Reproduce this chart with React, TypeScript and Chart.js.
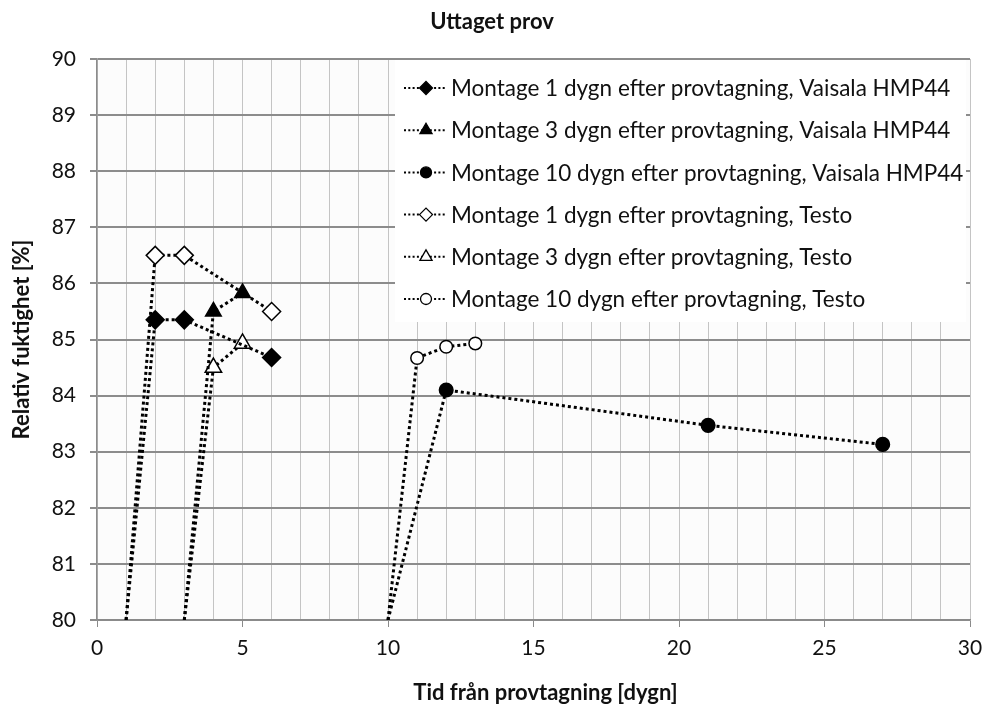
import { useEffect, useRef } from 'react';
import { Chart, registerables } from 'chart.js';
import { drawPoint } from 'chart.js/helpers';

Chart.register(...registerables);

const FONT = 'Lato, "Noto Sans", sans-serif';

// Days after sampling (x) and relative humidity in % (y) per series
const m1Days = [1, 2, 3, 6];
const m1Vaisala = [80, 85.35, 85.35, 84.68];
const m1Testo = [80, 86.5, 86.5, 85.5];

const m3Days = [3, 4, 5];
const m3Vaisala = [80, 85.5, 85.83];
const m3Testo = [80, 84.5, 84.93];

const m10VaisalaDays = [10, 12, 21, 27];
const m10Vaisala = [80, 84.1, 83.47, 83.13];
const m10TestoDays = [10, 11, 12, 13];
const m10Testo = [80, 84.67, 84.87, 84.93];

const seriesLabels = [
  'Montage 1 dygn efter provtagning, Vaisala HMP44',
  'Montage 3 dygn efter provtagning, Vaisala HMP44',
  'Montage 10 dygn efter provtagning, Vaisala HMP44',
  'Montage 1 dygn efter provtagning, Testo',
  'Montage 3 dygn efter provtagning, Testo',
  'Montage 10 dygn efter provtagning, Testo',
];

const chartTitle = 'Uttaget prov';
const xTitle = 'Tid från provtagning [dygn]';
const yTitle = 'Relativ fuktighet [%]';

const xMin = 0;
const xMax = 30;
const xLabelStep = 5;
const yMin = 80;
const yMax = 90;

const toPoints = (xs: number[], ys: number[]) => xs.map((x, i) => ({ x, y: ys[i] }));

type Marker = { style: string; radius: number; legendRadius: number; fill: string };

const markers: Marker[] = [
  { style: 'rectRot', radius: 9, legendRadius: 6.5, fill: '#000' },
  { style: 'triangle', radius: 9, legendRadius: 7, fill: '#000' },
  { style: 'circle', radius: 6.8, legendRadius: 5.5, fill: '#000' },
  { style: 'rectRot', radius: 9, legendRadius: 6.5, fill: '#fff' },
  { style: 'triangle', radius: 9.5, legendRadius: 7, fill: '#fff' },
  { style: 'circle', radius: 6.3, legendRadius: 5.5, fill: '#fff' },
];

const seriesData = [
  toPoints(m1Days, m1Vaisala),
  toPoints(m3Days, m3Vaisala),
  toPoints(m10VaisalaDays, m10Vaisala),
  toPoints(m1Days, m1Testo),
  toPoints(m3Days, m3Testo),
  toPoints(m10TestoDays, m10Testo),
];

// Near-white plot background
const plotBackground = {
  id: 'plotBackground',
  beforeDraw(chart: any) {
    const { ctx, chartArea: a } = chart;
    ctx.save();
    ctx.fillStyle = '#fcfcfc';
    ctx.fillRect(a.left, a.top, a.right - a.left, a.bottom - a.top);
    ctx.restore();
  },
};

// Chart title and both axis titles
const titles = {
  id: 'titles',
  afterDraw(chart: any) {
    const { ctx, chartArea: a } = chart;
    ctx.save();
    ctx.fillStyle = '#111';
    ctx.font = `bold 22px ${FONT}`;
    ctx.textAlign = 'center';
    ctx.textBaseline = 'middle';
    ctx.fillText(chartTitle, chart.width / 2, 22);
    ctx.fillText(xTitle, (a.left + a.right) / 2 + 12, 693);
    ctx.translate(22, (a.top + a.bottom) / 2);
    ctx.rotate(-Math.PI / 2);
    ctx.fillText(yTitle, 0, 0);
    ctx.restore();
  },
};

// Legend box drawn inside the plot, upper right
const insetLegend = {
  id: 'insetLegend',
  afterDatasetsDraw(chart: any) {
    const { ctx, chartArea: a } = chart;
    const left = a.left + 298;
    const right = a.right - 4;
    const top = a.top + 1;
    const boxH = 262;
    ctx.save();
    ctx.fillStyle = '#ffffff';
    ctx.fillRect(left, top, right - left, boxH);
    chart.data.datasets.forEach((ds: any, i: number) => {
      const cy = top + 28 + i * 42.2;
      const m = markers[i];
      ctx.save();
      ctx.strokeStyle = '#000';
      ctx.lineWidth = 2;
      ctx.setLineDash([2, 2.3]);
      ctx.beginPath();
      ctx.moveTo(left + 9, cy);
      ctx.lineTo(left + 50, cy);
      ctx.stroke();
      ctx.restore();
      ctx.fillStyle = m.fill;
      ctx.strokeStyle = '#000';
      ctx.lineWidth = 1.3;
      drawPoint(ctx, { pointStyle: m.style as any, rotation: 0, radius: m.legendRadius, borderWidth: 1.3 }, left + 31, cy);
      ctx.fillStyle = '#111';
      ctx.font = `22.5px ${FONT}`;
      ctx.textBaseline = 'middle';
      ctx.textAlign = 'left';
      ctx.fillText(ds.label, left + 56, cy + 1);
    });
    ctx.restore();
  },
};

export default function App() {
  const canvasRef = useRef<HTMLCanvasElement | null>(null);

  useEffect(() => {
    const canvas = canvasRef.current;
    if (!canvas) return;
    const datasets = seriesData.map((data, i) => {
      const m = markers[i];
      return {
        label: seriesLabels[i],
        data,
        showLine: true,
        borderColor: '#000',
        borderWidth: 3,
        borderDash: [3, 3],
        backgroundColor: m.fill,
        pointStyle: m.style,
        pointBackgroundColor: m.fill,
        pointBorderColor: '#000',
        pointBorderWidth: 1.5,
        pointRadius: (c: any) => (c.dataIndex === 0 ? 0 : m.radius),
        pointHoverRadius: (c: any) => (c.dataIndex === 0 ? 0 : m.radius),
      };
    });

    const chart = new Chart(canvas, {
      type: 'scatter',
      data: { datasets: datasets as any },
      options: {
        responsive: false,
        animation: false,
        events: [],
        layout: { padding: { left: 0, right: 0, top: 59, bottom: 0 } },
        plugins: {
          legend: { display: false },
          tooltip: { enabled: false },
          title: { display: false },
        },
        scales: {
          x: {
            type: 'linear',
            min: xMin,
            max: xMax,
            afterFit: (s: any) => {
              s.height = 89;
              s.paddingRight = 14;
              s.paddingLeft = 0;
            },
            ticks: {
              stepSize: 1,
              autoSkip: false,
              maxRotation: 0,
              padding: 9,
              color: '#111',
              font: { family: FONT, size: 21 },
              callback: (v: any) => (Number(v) % xLabelStep === 0 ? String(v) : ''),
            },
            grid: {
              color: '#c4c4c4',
              lineWidth: 1,
              tickLength: 7,
              tickColor: (c: any) => (c.tick && c.tick.value % xLabelStep === 0 ? '#8a8a8a' : 'rgba(0,0,0,0)'),
            },
            border: { color: '#8a8a8a', width: 1.5 },
          },
          y: {
            type: 'linear',
            min: yMin,
            max: yMax,
            afterFit: (s: any) => {
              s.width = 97;
            },
            ticks: {
              stepSize: 1,
              padding: 14,
              color: '#111',
              font: { family: FONT, size: 21 },
            },
            grid: {
              color: '#8c8c8c',
              lineWidth: 2,
              tickLength: 7,
              tickColor: '#8c8c8c',
            },
            border: { color: '#8c8c8c', width: 1.5 },
          },
        },
      },
      plugins: [plotBackground, insetLegend, titles],
    });

    return () => chart.destroy();
  }, []);

  return (
    <div style={{ position: 'absolute', left: 0, top: 0, width: 984, height: 709, background: '#fff' }}>
      <canvas ref={canvasRef} width={984} height={709} style={{ display: 'block' }} />
    </div>
  );
}
